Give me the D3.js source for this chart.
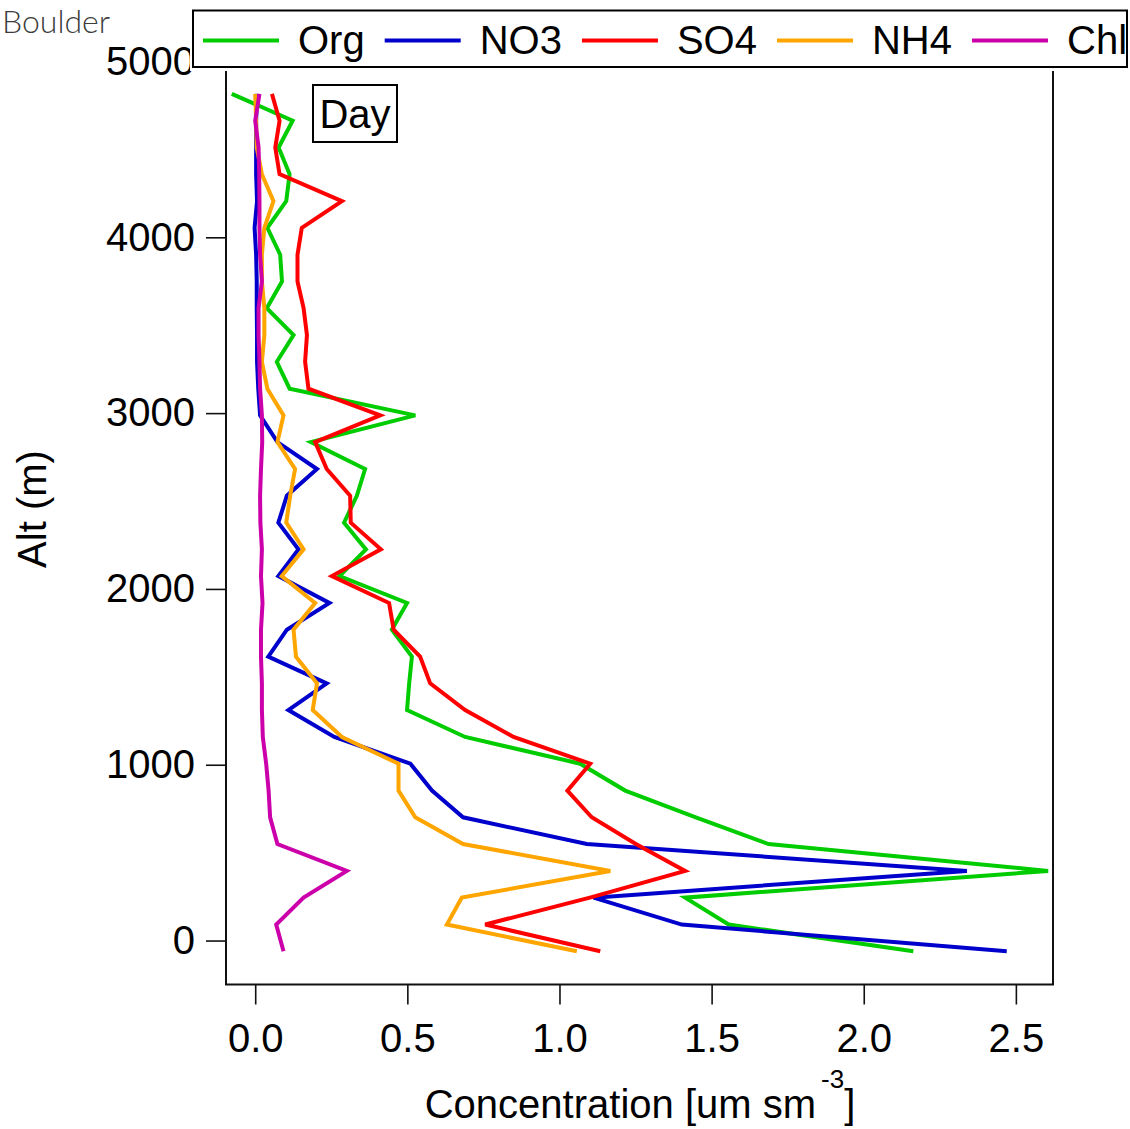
<!DOCTYPE html>
<html>
<head>
<meta charset="utf-8">
<script src="https://cdn.jsdelivr.net/npm/d3@7"></script>
<style>
  html, body { margin: 0; padding: 0; background: #fff; }
  svg { display: block; }
  text { font-family: "Liberation Sans", Arial, sans-serif; }
</style>
</head>
<body>
<script>
// Altitude levels of the profile (m), top of the column first
const altitude = [4816, 4663, 4511, 4359, 4206, 4054, 3901, 3749, 3597, 3444, 3292,
  3139, 2987, 2835, 2682, 2530, 2377, 2225, 2073, 1920, 1768, 1615, 1463, 1311,
  1158, 1006, 853, 701, 549, 396, 244, 91, -61];

// Species concentrations at each level (um sm-3)
const org = [-0.077, 0.123, 0.077, 0.113, 0.102, 0.040, 0.082, 0.088, 0.038, 0.126, 0.071,
  0.113, 0.526, 0.183, 0.361, 0.334, 0.292, 0.364, 0.277, 0.499, 0.449, 0.515, 0.506, 0.499,
  0.690, 1.068, 1.216, 1.448, 1.687, 2.606, 1.413, 1.556, 2.163];
const no3 = [0.006, 0.003, 0.003, 0.003, 0.006, -0.002, 0.003, 0.005, 0.005, 0.006, 0.006,
  0.010, 0.016, 0.073, 0.203, 0.104, 0.076, 0.142, 0.076, 0.244, 0.104, 0.043, 0.235, 0.109,
  0.260, 0.510, 0.581, 0.683, 1.090, 2.339, 1.112, 1.402, 2.470];
const so4 = [0.055, 0.080, 0.066, 0.080, 0.285, 0.153, 0.139, 0.139, 0.159, 0.170, 0.164,
  0.175, 0.411, 0.197, 0.235, 0.312, 0.314, 0.413, 0.252, 0.440, 0.455, 0.542, 0.575, 0.690,
  0.849, 1.101, 1.026, 1.106, 1.251, 1.413, 1.100, 0.756, 1.134];
const nh4 = [0.000, 0.003, 0.005, 0.022, 0.060, 0.030, 0.022, 0.022, 0.030, 0.030, 0.022,
  0.040, 0.093, 0.073, 0.131, 0.115, 0.102, 0.159, 0.087, 0.197, 0.126, 0.134, 0.203, 0.189,
  0.285, 0.471, 0.471, 0.526, 0.683, 1.167, 0.679, 0.630, 1.057];
const chl = [0.014, 0.000, 0.011, 0.013, 0.014, 0.014, 0.016, 0.022, 0.011, 0.011, 0.014,
  0.016, 0.022, 0.023, 0.019, 0.016, 0.017, 0.022, 0.019, 0.024, 0.019, 0.019, 0.022, 0.022,
  0.025, 0.036, 0.044, 0.049, 0.073, 0.301, 0.159, 0.069, 0.093];

const seriesNames = ["Org", "NO3", "SO4", "NH4", "Chl"];
const seriesColors = ["#00cc00", "#0000cc", "#ff0000", "#ffa500", "#cc00aa"];
const seriesValues = [org, no3, so4, nh4, chl];

const xTicks = [0, 0.5, 1.0, 1.5, 2.0, 2.5];
const yTicks = [0, 1000, 2000, 3000, 4000, 5000];

const W = 1130, H = 1129;
const frame = { left: 226, right: 1053, top: 61.5, bottom: 984.5 };

const svg = d3.select("body").append("svg").attr("width", W).attr("height", H);

const x = d3.scaleLinear().domain([-0.096, 2.622]).range([frame.left, frame.right]);
const y = d3.scaleLinear().domain([-250, 5000]).range([frame.bottom, frame.top]);

// Axes
const xAxis = d3.axisBottom(x).tickValues(xTicks).tickFormat(d3.format(".1f"))
  .tickSize(20).tickSizeOuter(0).tickPadding(19);
const yAxis = d3.axisLeft(y).tickValues(yTicks).tickFormat(d3.format("d"))
  .tickSize(20).tickSizeOuter(0).tickPadding(11);

const gx = svg.append("g").attr("transform", `translate(0,${frame.bottom})`).call(xAxis);
const gy = svg.append("g").attr("transform", `translate(${frame.left},0)`).call(yAxis);
[gx, gy].forEach(g => {
  g.select(".domain").remove();
  g.selectAll(".tick line").attr("stroke", "#111").attr("stroke-width", 1.6);
  g.selectAll(".tick text").attr("fill", "#000").style("font-size", "40px")
    .style("font-family", "'Liberation Sans', Arial, sans-serif");
});

// Plot frame (left, bottom, right)
svg.append("path")
  .attr("d", `M${frame.left},${frame.top}V${frame.bottom}H${frame.right}V${frame.top}`)
  .attr("fill", "none").attr("stroke", "#111").attr("stroke-width", 2);

// Profiles
const line = d3.line().x(d => x(d[0])).y(d => y(d[1]));
seriesValues.forEach((vals, k) => {
  svg.append("path")
    .datum(vals.map((v, i) => [v, altitude[i]]))
    .attr("d", line)
    .attr("fill", "none")
    .attr("stroke", seriesColors[k])
    .attr("stroke-width", 4);
});

// "Day" tag
svg.append("rect").attr("x", 313).attr("y", 85).attr("width", 84).attr("height", 57)
  .attr("fill", "#fff").attr("stroke", "#000").attr("stroke-width", 2);
svg.append("text").attr("x", 355).attr("y", 128).attr("text-anchor", "middle")
  .style("font-size", "40px").text("Day");

// Legend
svg.append("rect").attr("x", 190).attr("y", 6).attr("width", 940).attr("height", 65)
  .attr("fill", "#fff");
svg.append("rect").attr("x", 193).attr("y", 10.5).attr("width", 934).attr("height", 56.5)
  .attr("fill", "none").attr("stroke", "#000").attr("stroke-width", 2);
let lx = 203;
seriesNames.forEach((name, k) => {
  svg.append("line").attr("x1", lx).attr("x2", lx + 76).attr("y1", 40.5).attr("y2", 40.5)
    .attr("stroke", seriesColors[k]).attr("stroke-width", 4);
  const t = svg.append("text").attr("x", lx + 95).attr("y", 54)
    .style("font-size", "40px").text(name);
  lx += 95 + t.node().getComputedTextLength() + 20;
});

// Axis titles
svg.append("text")
  .attr("transform", "translate(46,509) rotate(-90)")
  .attr("text-anchor", "middle").style("font-size", "40px").text("Alt (m)");

const xt = svg.append("text").attr("x", 640).attr("y", 1118).attr("text-anchor", "middle")
  .style("font-size", "40px");
xt.append("tspan").text("Concentration [um sm");
xt.append("tspan").attr("dx", 5).attr("dy", -30).style("font-size", "26px").text("-3");
xt.append("tspan").attr("dy", 30).style("font-size", "40px").text("]");

// Site name
svg.append("text").attr("x", 2).attr("y", 33)
  .style("font-family", "Lato, 'Open Sans', sans-serif").style("font-size", "32px")
  .style("font-weight", 300).attr("fill", "#3c3c3c").text("Boulder");
</script>
</body>
</html>
